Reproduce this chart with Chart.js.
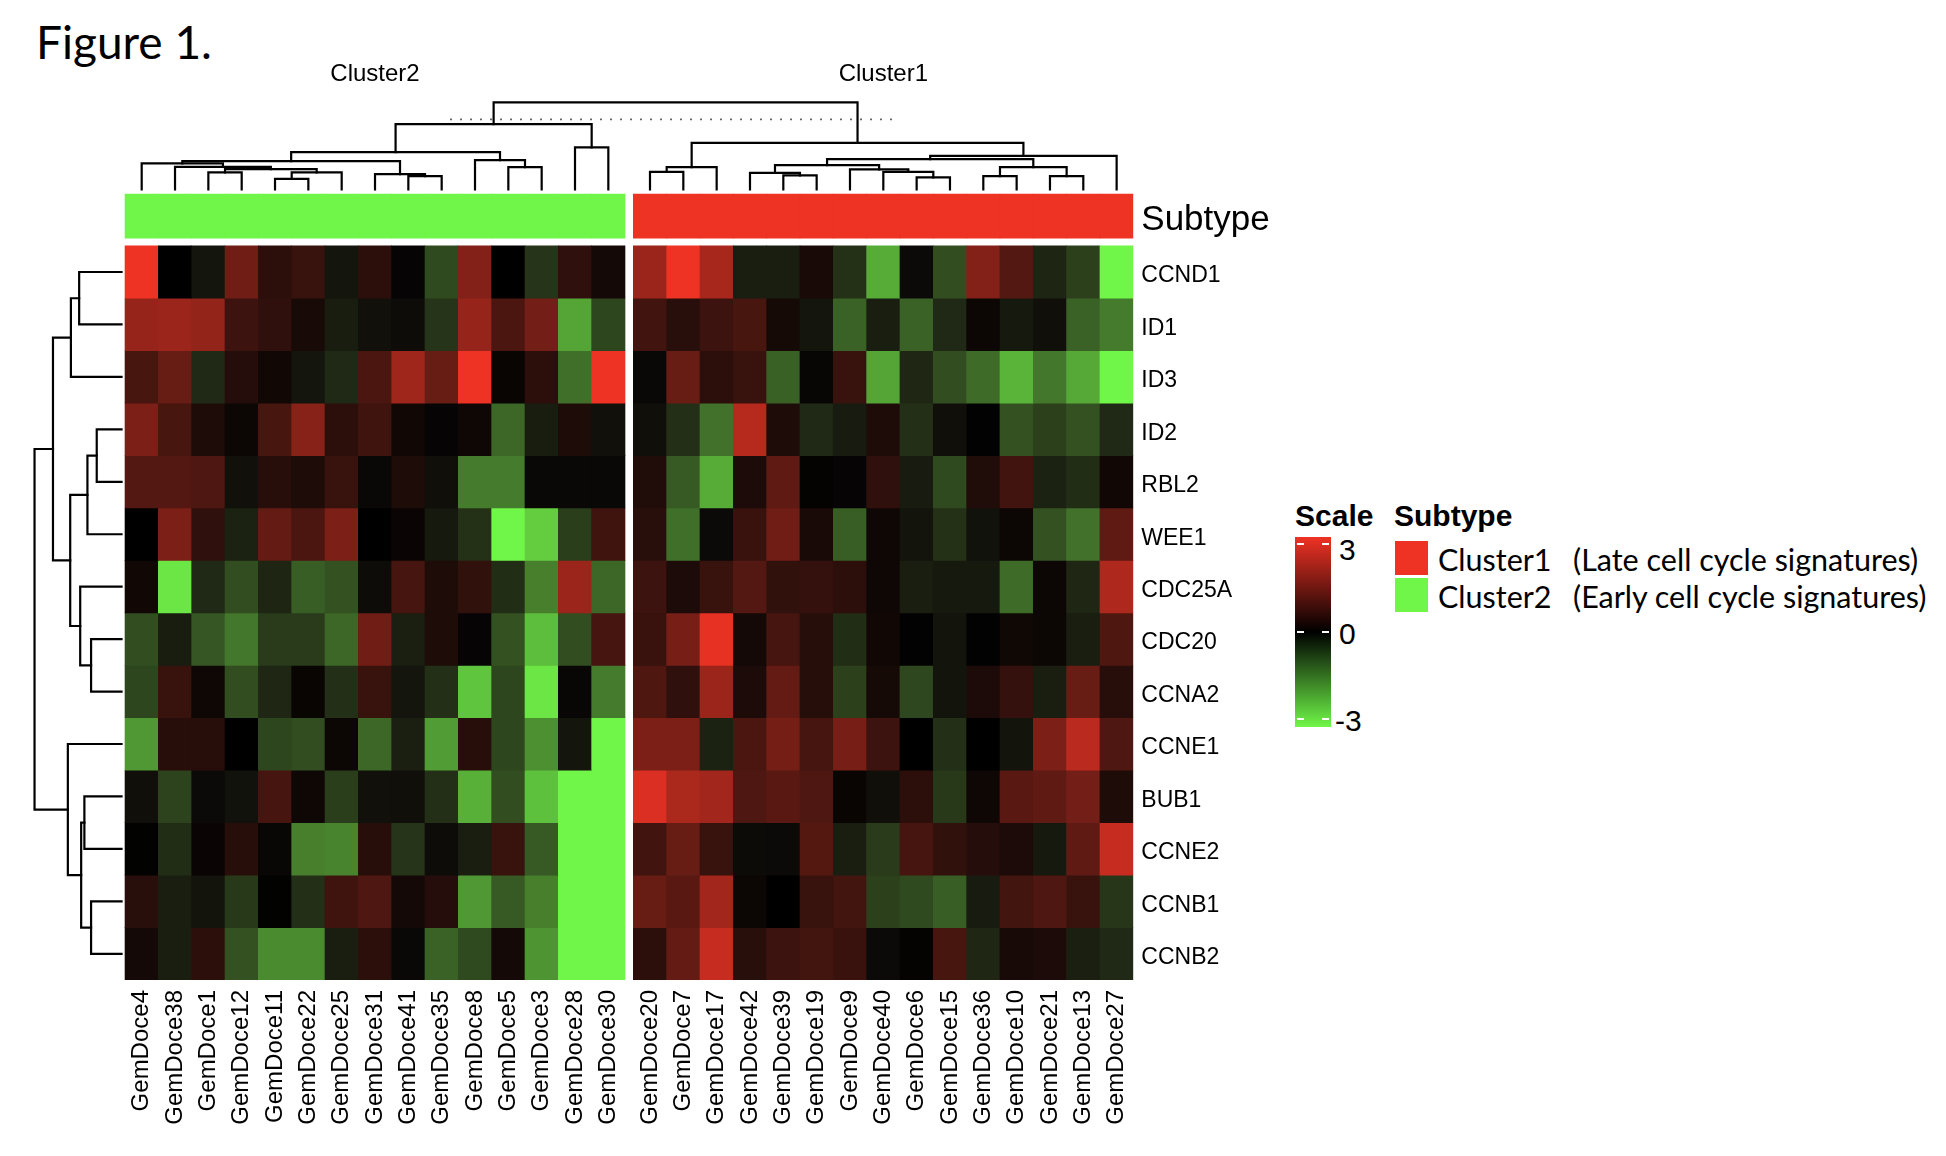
<!DOCTYPE html>
<html>
<head>
<meta charset="utf-8">
<title>Figure 1</title>
<script src="https://cdn.jsdelivr.net/npm/chart.js@4.4.1/dist/chart.umd.min.js"></script>
<style>
  html, body { margin: 0; padding: 0; background: #fff; }
  body { width: 1946px; height: 1156px; position: relative; overflow: hidden;
         font-family: 'Liberation Sans', Arial, sans-serif; color: #000; }
  #wrap { position: absolute; left: 0; top: 0; width: 1290px; height: 1156px; }
  .abs { position: absolute; white-space: nowrap; line-height: 1; }
  #title { left: 36px; top: 19px; font-family: Lato, 'Open Sans', sans-serif; font-size: 46px; }
  .head { font-weight: bold; font-size: 30px; top: 501px; }
  #scaleBar { left: 1295px; top: 537px; width: 36px; height: 190px;
              background: linear-gradient(to bottom, rgb(238,50,36) 0%, #000 50%, rgb(112,246,72) 100%); }
  .dash { position: absolute; width: 7px; height: 2px; background: #fff; }
  .tick { font-size: 30px; left: 1339px; }
  .swatch { position: absolute; left: 1395px; width: 33px; height: 34px; }
  .lab { font-family: Lato, 'Open Sans', sans-serif; font-size: 30.5px; }
</style>
</head>
<body>
<div id="title" class="abs">Figure 1.</div>
<div id="wrap"><canvas id="heatmap"></canvas></div>

<div class="abs head" style="left:1295px">Scale</div>
<div class="abs head" style="left:1394px">Subtype</div>
<div id="scaleBar" class="abs">
  <div class="dash" style="left:2px;top:6px"></div><div class="dash" style="right:2px;top:6px"></div>
  <div class="dash" style="left:2px;top:94px"></div><div class="dash" style="right:2px;top:94px"></div>
  <div class="dash" style="left:2px;top:181px"></div><div class="dash" style="right:2px;top:181px"></div>
</div>
<div class="abs tick" style="top:535px">3</div>
<div class="abs tick" style="top:619px">0</div>
<div class="abs tick" style="top:706px;left:1335px">-3</div>
<div class="swatch" style="top:541px;background:rgb(238,50,36)"></div>
<div class="swatch" style="top:578px;background:rgb(112,246,72)"></div>
<div class="abs lab" style="left:1438px;top:544px">Cluster1</div>
<div class="abs lab" style="left:1573px;top:544px">(Late cell cycle signatures)</div>
<div class="abs lab" style="left:1438px;top:581px">Cluster2</div>
<div class="abs lab" style="left:1573px;top:581px">(Early cell cycle signatures)</div>

<script>
// samples in dendrogram order
const samples = ['GemDoce4', 'GemDoce38', 'GemDoce1', 'GemDoce12', 'GemDoce11', 'GemDoce22', 'GemDoce25',
  'GemDoce31', 'GemDoce41', 'GemDoce35', 'GemDoce8', 'GemDoce5', 'GemDoce3', 'GemDoce28', 'GemDoce30',
  'GemDoce20', 'GemDoce7', 'GemDoce17', 'GemDoce42', 'GemDoce39', 'GemDoce19', 'GemDoce9', 'GemDoce40',
  'GemDoce6', 'GemDoce15', 'GemDoce36', 'GemDoce10', 'GemDoce21', 'GemDoce13', 'GemDoce27'];
const subtype = Array(15).fill('Cluster2').concat(Array(15).fill('Cluster1'));
const clusterNames = ['Cluster2', 'Cluster1'];
const genes = ['CCND1', 'ID1', 'ID3', 'ID2', 'RBL2', 'WEE1', 'CDC25A', 'CDC20', 'CCNA2', 'CCNE1',
  'BUB1', 'CCNE2', 'CCNB1', 'CCNB2'];

// scaled expression (-3 .. 3), one array per gene, same order as samples
const CCND1  = [3.0, 0, -0.25, 1.4, 0.55, 0.7, -0.25, 0.55, -0.05, -0.9, 1.65, 0, -0.65, 0.6, 0.25,
                1.95, 3.0, 2.1, -0.36, -0.36, 0.32, -0.6, -2.1, -0.12, -0.95, 1.65, 1.05, -0.45, -0.78, -3.0];
const ID1    = [1.9, 1.95, 1.85, 0.75, 0.6, 0.3, -0.35, -0.2, -0.15, -0.65, 1.9, 0.95, 1.45, -2.0, -0.85,
                0.82, 0.52, 0.75, 0.9, 0.28, -0.26, -1.2, -0.36, -1.2, -0.5, 0.15, -0.3, -0.18, -1.2, -1.5];
const ID3    = [0.9, 1.3, -0.5, 0.45, 0.22, -0.25, -0.5, 0.95, 2.0, 1.3, 3.0, 0.1, 0.55, -1.35, 3.0,
                -0.1, 1.3, 0.55, 0.7, -1.18, -0.07, 0.7, -2.0, -0.48, -0.95, -1.3, -2.2, -1.45, -2.05, -3.0];
const ID2    = [1.55, 0.9, 0.38, 0.15, 0.9, 1.7, 0.55, 0.8, 0.22, -0.05, 0.18, -1.25, -0.35, 0.38, -0.2,
                -0.18, -0.58, -1.38, 2.3, 0.38, -0.5, -0.34, 0.38, -0.58, -0.18, 0.04, -1.0, -0.78, -1.0, -0.5];
const RBL2   = [1.05, 1.05, 1.0, -0.2, 0.5, 0.38, 0.7, -0.1, 0.38, -0.18, -1.5, -1.5, -0.1, -0.1, -0.1,
                0.4, -1.08, -2.1, 0.35, 1.2, 0.06, -0.05, 0.6, -0.34, -0.9, 0.4, 0.82, -0.42, -0.55, 0.22];
const WEE1   = [0, 1.55, 0.6, -0.42, 1.25, 0.95, 1.55, 0, 0.12, -0.3, -0.6, -3.0, -2.5, -0.75, 0.8,
                0.52, -1.35, -0.12, 0.72, 1.4, 0.32, -1.15, 0.18, -0.24, -0.6, -0.22, 0.15, -1.0, -1.38, 1.2];
const CDC25A = [0.22, -2.8, -0.5, -0.95, -0.45, -1.15, -1.0, -0.15, 0.88, 0.38, 0.62, -0.55, -1.55, 1.95, -1.25,
                0.75, 0.35, 0.7, 1.03, 0.62, 0.65, 0.56, 0.18, -0.36, -0.3, -0.3, -1.3, 0.15, -0.48, 2.2];
const CDC20  = [-0.95, -0.35, -1.05, -1.45, -0.72, -0.72, -1.25, 1.4, -0.38, 0.38, -0.05, -1.0, -2.3, -0.95, 0.88,
                0.72, 1.5, 2.9, 0.25, 0.88, 0.48, -0.55, 0.22, 0.04, -0.24, 0.04, 0.2, 0.15, -0.36, 0.98];
const CCNA2  = [-0.85, 0.7, 0.18, -0.95, -0.48, 0.1, -0.58, 0.7, -0.25, -0.58, -2.4, -0.85, -2.8, -0.08, -1.5,
                0.98, 0.6, 1.95, 0.35, 1.25, 0.48, -0.78, 0.28, -0.86, -0.24, 0.35, 0.65, -0.36, 1.3, 0.5];
const CCNE1  = [-1.85, 0.5, 0.5, 0, -0.85, -0.95, 0.15, -1.25, -0.38, -1.9, 0.5, -0.85, -1.75, -0.25, -3.0,
                1.55, 1.55, -0.42, 0.95, 1.48, 0.88, 1.5, 0.75, 0, -0.58, 0, -0.24, 1.55, 2.35, 1.0];
const BUB1   = [-0.18, -0.82, -0.12, -0.22, 0.88, 0.18, -0.75, -0.2, -0.18, -0.58, -2.15, -0.95, -2.35, -3.0, -3.0,
                2.75, 2.15, 2.05, 1.0, 1.12, 1.0, 0.1, -0.18, 0.56, -0.7, 0.18, 1.12, 1.2, 1.45, 0.38];
const CCNE2  = [0.03, -0.55, 0.12, 0.5, -0.08, -1.55, -1.6, 0.5, -0.65, -0.15, -0.36, 0.7, -1.08, -3.0, -3.0,
                0.82, 1.3, 0.7, -0.14, -0.12, 1.06, -0.36, -0.72, 0.88, 0.62, 0.45, 0.35, -0.3, 1.2, 2.5];
const CCNB1  = [0.52, -0.36, -0.24, -0.7, 0.03, -0.58, 0.8, 1.0, 0.25, 0.45, -1.85, -1.08, -1.55, -3.0, -3.0,
                1.3, 1.12, 2.05, 0.15, 0, 0.7, 0.85, -0.78, -0.9, -1.15, -0.34, 0.85, 1.0, 0.7, -0.66];
const CCNB2  = [0.25, -0.36, 0.55, -1.0, -1.7, -1.7, -0.36, 0.55, -0.1, -1.2, -0.9, 0.25, -1.8, -3.0, -3.0,
                0.56, 1.25, 2.5, 0.52, 0.75, 0.85, 0.72, -0.12, 0.06, 0.9, -0.48, 0.3, 0.35, -0.38, -0.5];
const expr = [CCND1, ID1, ID3, ID2, RBL2, WEE1, CDC25A, CDC20, CCNA2, CCNE1, BUB1, CCNE2, CCNB1, CCNB2];

// hclust-style merges: negative = leaf (1-based), positive = earlier merge; third value = height (root = 10)
const colMerges = [
  [-5, -6, 1.22], [1, -7, 1.95], [-3, -4, 1.95], [3, 2, 2.33], [-2, 4, 2.6],
  [-9, -10, 1.53], [-8, 6, 1.76], [-1, 5, 2.99], [8, 7, 3.25], [-12, -13, 2.56],
  [-11, 10, 3.37], [9, 11, 4.29], [-14, -15, 4.83], [12, 13, 7.51],
  [-16, -17, 2.02], [15, -18, 2.56], [-20, -21, 1.61], [-19, 17, 1.91], [-24, -25, 1.38],
  [-23, 19, 2.02], [-22, 20, 2.3], [18, 21, 2.79], [-26, -27, 1.53], [-28, -29, 1.53],
  [23, 24, 2.56], [22, 25, 3.48], [26, -30, 3.86], [16, 27, 5.36], [14, 28, 10]
];
const colCutHeight = 8.05;
const colCutSpan = [9.25, 22.65];
const rowMerges = [
  [-1, -2, 4.87], [1, -3, 5.82], [-4, -5, 2.85], [3, -6, 3.92], [-8, -9, 3.5],
  [-7, 5, 4.75], [4, 6, 5.9], [2, 7, 7.88], [-11, -12, 4.27], [-13, -14, 3.5],
  [9, 10, 4.64], [-10, 11, 6.17], [8, 12, 10]
];

// layout (axis units: one column wide, one row tall)
const clusterGap = 0.25;
const colPos = subtype.map((s, i) => i + (s !== subtype[0] ? clusterGap : 0));
const rowPos = genes.map((g, i) => i + 0.5);
const subtypeBand = [-0.985, -0.147];
const colBase = -1.075, colScale = 0.1659;
const rowBase = -0.605, rowScale = 0.261;

const RED = [238, 50, 36], GREEN = [112, 246, 72];
const subtypeColors = { Cluster1: 'rgb(238,50,36)', Cluster2: 'rgb(112,246,72)' };

function valueColor(v) {
  const t = Math.min(Math.abs(v) / 3, 1);
  const c = v >= 0 ? RED : GREEN;
  const main = v >= 0 ? 0 : 1;
  const rgb = c.map((k, i) => Math.round(i === main ? k * t : k * Math.pow(t, 0.7)));
  return 'rgb(' + rgb.join(',') + ')';
}

function dendroSegments(merges, leafPos) {
  const nodes = [];
  const get = id => id < 0 ? { pos: leafPos[-id - 1], h: 0 } : nodes[id - 1];
  return merges.map(([a, b, h]) => {
    const A = get(a), B = get(b);
    nodes.push({ pos: (A.pos + B.pos) / 2, h: h });
    return [[A.pos, A.h], [A.pos, h], [B.pos, h], [B.pos, B.h]];
  });
}

const lineStyle = {
  type: 'line', borderColor: '#000', borderWidth: 2.2, pointRadius: 0,
  fill: false, tension: 0, borderCapStyle: 'square', borderJoinStyle: 'miter', clip: false
};

const datasets = [];

expr.forEach((vals, r) => {
  datasets.push({
    type: 'bar',
    label: genes[r],
    data: vals.map((v, c) => ({ x: colPos[c], y: [r, r + 1] })),
    backgroundColor: vals.map(valueColor),
    borderWidth: 0,
    grouped: false,
    barPercentage: 1,
    categoryPercentage: 1
  });
});

datasets.push({
  type: 'bar',
  label: 'Subtype',
  data: colPos.map(x => ({ x: x, y: subtypeBand })),
  backgroundColor: subtype.map(s => subtypeColors[s]),
  borderWidth: 0,
  grouped: false,
  barPercentage: 1,
  categoryPercentage: 1
});

dendroSegments(colMerges, colPos).forEach(seg => {
  datasets.push(Object.assign({}, lineStyle, {
    data: seg.map(([p, h]) => ({ x: p, y: colBase - h * colScale }))
  }));
});

dendroSegments(rowMerges, rowPos).forEach(seg => {
  datasets.push(Object.assign({}, lineStyle, {
    data: seg.map(([p, h]) => ({ x: rowBase - h * rowScale, y: p }))
  }));
});

datasets.push(Object.assign({}, lineStyle, {
  borderColor: '#666', borderWidth: 1.6, borderDash: [2, 8], borderCapStyle: 'butt',
  data: colCutSpan.map(x => ({ x: x, y: colBase - colCutHeight * colScale }))
}));

const clusterCenters = clusterNames.map(n => {
  const xs = colPos.filter((x, i) => subtype[i] === n);
  return (xs[0] + xs[xs.length - 1]) / 2;
});

const sansFont = "'Liberation Sans', Arial, sans-serif";
Chart.defaults.font.family = sansFont;
Chart.defaults.color = '#000';

new Chart(document.getElementById('heatmap'), {
  type: 'bar',
  data: { datasets: datasets },
  options: {
    responsive: true,
    maintainAspectRatio: false,
    animation: false,
    events: [],
    layout: { padding: { left: 31.7, right: 0, top: 0, bottom: 0 } },
    plugins: { legend: { display: false }, tooltip: { enabled: false } },
    scales: {
      x: {
        type: 'linear', position: 'bottom', min: -3.3, max: 29.75, offset: false,
        grid: { display: false, drawTicks: false, offset: false }, border: { display: false },
        afterBuildTicks: s => { s.ticks = colPos.map(v => ({ value: v })); },
        afterFit: s => { s.height = 176; },
        ticks: {
          autoSkip: false, minRotation: 90, maxRotation: 90, padding: 10,
          font: { size: 24, family: sansFont },
          callback: (v, i) => samples[i]
        }
      },
      x2: {
        type: 'linear', position: 'top', axis: 'x', min: -3.3, max: 29.75, offset: false,
        grid: { display: false, drawTicks: false, offset: false }, border: { display: false },
        afterBuildTicks: s => { s.ticks = clusterCenters.map(v => ({ value: v })); },
        afterFit: s => { s.height = 100; },
        ticks: {
          autoSkip: false, minRotation: 0, maxRotation: 0, padding: 11,
          font: { size: 24, family: sansFont },
          callback: (v, i) => clusterNames[i]
        }
      },
      y: {
        type: 'linear', position: 'right', reverse: true, min: -2.78, max: 14, beginAtZero: false,
        grid: { display: false, drawTicks: false }, border: { display: false },
        afterBuildTicks: s => {
          s.ticks = [{ value: (subtypeBand[0] + subtypeBand[1]) / 2 }].concat(rowPos.map(v => ({ value: v })));
        },
        afterFit: s => { s.width = 156.7; },
        ticks: {
          autoSkip: false, padding: 8, labelOffset: 4,
          font: c => ({ size: c.index === 0 ? 35 : 23, family: sansFont }),
          callback: (v, i) => i === 0 ? 'Subtype' : genes[i - 1]
        }
      }
    }
  }
});
</script>
</body>
</html>
